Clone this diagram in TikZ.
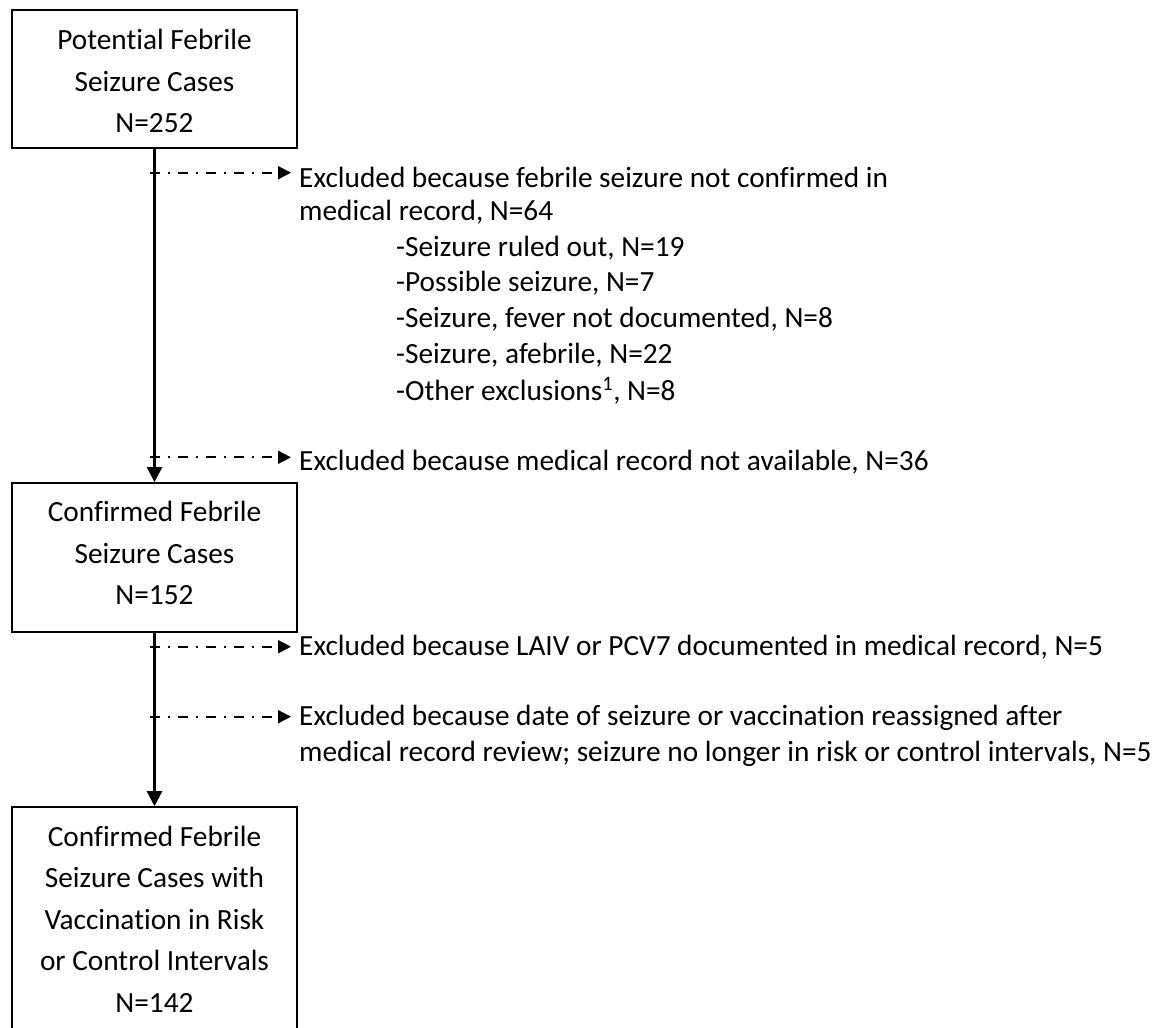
\documentclass[tikz,border=0pt]{standalone}
\usepackage{fontspec}
\setmainfont{Carlito}[Ligatures={NoCommon,NoRare}]
\usetikzlibrary{arrows.meta}
\begin{document}
\begin{tikzpicture}[x=1pt,y=-1pt,
  box/.style={draw,line width=2.2pt,minimum width=285pt,inner sep=0pt},
  boxtxt/.style={inner sep=0pt,align=center,font=\fontsize{29.3}{41.5}\selectfont},
  txt/.style={anchor=base west,inner sep=0pt,font=\fontsize{29.3}{35}\selectfont},
  flow/.style={line width=2.4pt,-{Triangle[length=15pt,width=15pt]}},
  excl/.style={line width=1.8pt,dash pattern=on 10pt off 8pt on 2pt off 8pt,shorten >=8pt,-{Triangle[length=13pt,width=13pt]}}]
\clip (0,0) rectangle (1165,1028);
% boxes
\node[box,minimum height=138.3pt] (b1) at (154.5,79.2) {};
\node[box,minimum height=148.7pt] (b2) at (154.5,557.6) {};
\node[box,minimum height=222.2pt] (b3) at (154.5,918.4) {};
\node[boxtxt] (t1) at (154.5,81.2) {Potential Febrile\\Seizure Cases\\N=252};
\node[boxtxt] (t2) at (154.5,553.4) {Confirmed Febrile\\Seizure Cases\\N=152};
\node[boxtxt] (t3) at (154.5,919.2) {Confirmed Febrile\\Seizure Cases with\\Vaccination in Risk\\or Control Intervals\\N=142};
% exclusion texts
\node[txt] (e1a) at (299,187.3) {Excluded because febrile seizure not confirmed in};
\node[txt] (e1b) at (299,220.3) {medical record, N=64};
\node[txt] (s1) at (396,256) {-Seizure ruled out, N=19};
\node[txt] (s2) at (396,291.7) {-Possible seizure, N=7};
\node[txt] (s3) at (396,327.3) {-Seizure, fever not documented, N=8};
\node[txt] (s4) at (396,363.3) {-Seizure, afebrile, N=22};
\node[txt] (s5) at (396,400) {-Other exclusions\textsuperscript{1}, N=8};
\node[txt] (e2) at (299,470.5) {Excluded because medical record not available, N=36};
\node[txt] (e3) at (299,655) {Excluded because LAIV or PCV7 documented in medical record, N=5};
\node[txt] (e4a) at (299,725) {Excluded because date of seizure or vaccination reassigned after};
\node[txt] (e4b) at (299,761) {medical record review; seizure no longer in risk or control intervals, N=5};
% main flow
\draw[flow] (b1.south) -- (b2.north);
\draw[flow] (b2.south) -- (b3.north);
% dashed exclusion arrows
\coordinate (d1) at (150,172.7);
\coordinate (d2) at (150,457.3);
\coordinate (d3) at (150,646.7);
\coordinate (d4) at (150,716.7);
\draw[excl] (d1) -- (d1 -| e1a.west);
\draw[excl] (d2) -- (d2 -| e2.west);
\draw[excl] (d3) -- (d3 -| e3.west);
\draw[excl] (d4) -- (d4 -| e4a.west);
\end{tikzpicture}
\end{document}
